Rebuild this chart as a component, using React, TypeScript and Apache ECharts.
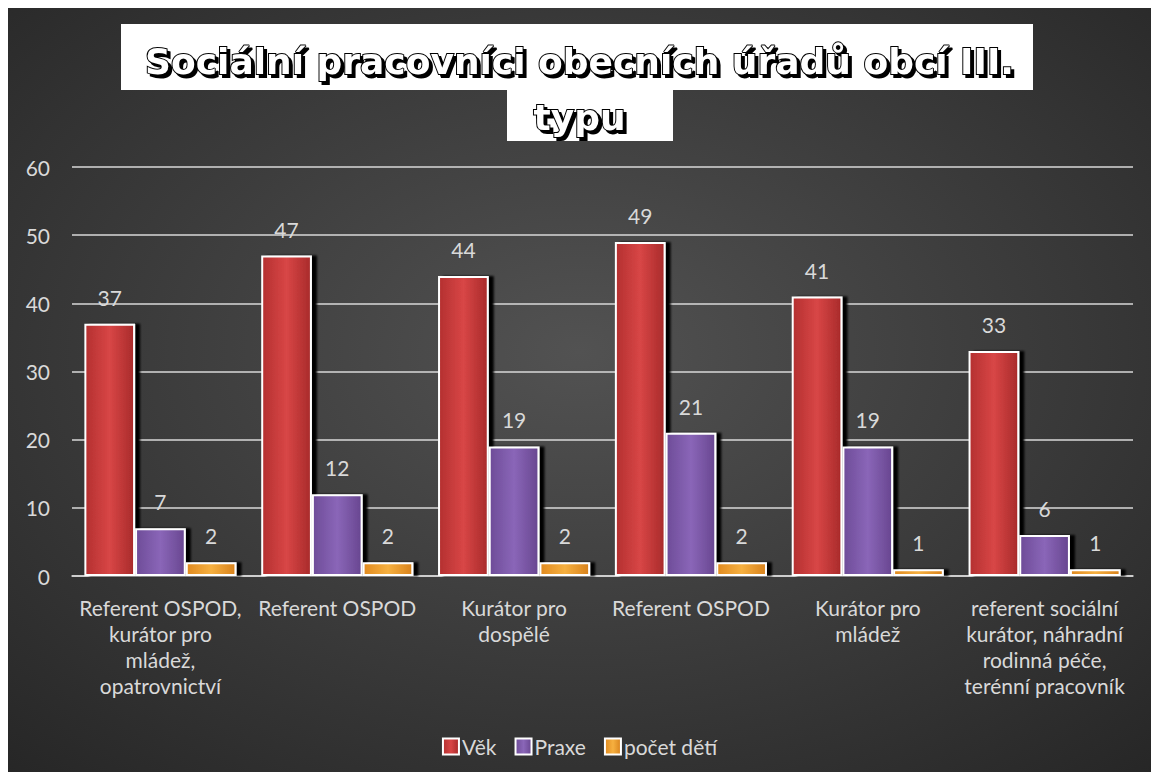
import React, { useEffect, useRef } from "react";
import * as echarts from "echarts";

const categories = [
  "Referent OSPOD,\nkurátor pro\nmládež,\nopatrovnictví",
  "Referent OSPOD",
  "Kurátor pro\ndospělé",
  "Referent OSPOD",
  "Kurátor pro\nmládež",
  "referent sociální\nkurátor, náhradní\nrodinná péče,\nterénní pracovník",
];
const vek = [37, 47, 44, 49, 41, 33];
const praxe = [7, 12, 19, 21, 19, 6];
const pocetDeti = [2, 2, 2, 2, 1, 1];
const yTicks = { min: 0, max: 60, interval: 10 };
const titleText = "Sociální pracovníci obecních úřadů obcí III.\ntypu";

const FONT = "Lato, 'Open Sans', sans-serif";
const LIGHT = "#d9d9d9";

function hGrad(a: string, b: string, c: string) {
  return new echarts.graphic.LinearGradient(0, 0, 1, 0, [
    { offset: 0, color: a },
    { offset: 0.5, color: b },
    { offset: 1, color: c },
  ]);
}

function barSeries(name: string, data: number[], fill: any) {
  return {
    name,
    type: "bar",
    data,
    barGap: "0%",
    barCategoryGap: "14%",
    itemStyle: {
      color: fill,
      borderColor: "#ffffff",
      borderWidth: 2,
      shadowColor: "#000000",
      shadowBlur: 2,
      shadowOffsetX: 5,
      shadowOffsetY: 0,
    },
    label: {
      show: true,
      position: "top",
      distance: 16,
      color: LIGHT,
      fontSize: 21,
      fontFamily: FONT,
    },
    emphasis: { disabled: true },
  };
}

export default function App() {
  const ref = useRef<HTMLDivElement>(null);
  useEffect(() => {
    if (!ref.current) return;
    const chart = echarts.init(ref.current, null, { renderer: "svg" });
    chart.setOption({
      animation: false,
      backgroundColor: {
        type: "radial",
        x: 0.5,
        y: 0.45,
        r: 0.75,
        colorStops: [
          { offset: 0, color: "#525252" },
          { offset: 1, color: "#262626" },
        ],
      },
      title: {
        text: titleText,
        left: "center",
        top: 20,
        z: 10,
        textStyle: {
          fontFamily: "'DejaVu Sans', Verdana, sans-serif",
          fontWeight: "bold",
          fontSize: 36,
          lineHeight: 56,
          color: "#ffffff",
          textBorderColor: "#000000",
          textBorderWidth: 2,
          textShadowColor: "#000000",
          textShadowBlur: 1,
          textShadowOffsetX: 3,
          textShadowOffsetY: 3,
        },
      },
      graphic: [
        {
          type: "rect",
          z: 1,
          shape: { x: 113, y: 16, width: 912, height: 66 },
          style: { fill: "#ffffff" },
        },
        {
          type: "rect",
          z: 1,
          shape: { x: 499, y: 82, width: 166, height: 51 },
          style: { fill: "#ffffff" },
        },
      ],
      legend: {
        bottom: 10,
        left: "center",
        itemWidth: 16,
        itemHeight: 16,
        itemGap: 18,
        icon: "rect",
        textStyle: { color: LIGHT, fontSize: 21, fontFamily: FONT, padding: [0, 0, 0, -2] },
        itemStyle: { borderColor: "#ffffff", borderWidth: 2, shadowBlur: 0, shadowOffsetX: 0 },
        data: ["Věk", "Praxe", "počet dětí"],
      },
      grid: { left: 64, right: 18, top: 159, bottom: 196 },
      xAxis: {
        type: "category",
        data: categories,
        axisLine: { show: true, lineStyle: { color: LIGHT, width: 1.5 } },
        axisTick: { show: false },
        axisLabel: {
          color: LIGHT,
          fontSize: 21,
          fontFamily: FONT,
          lineHeight: 26,
          margin: 18,
          interval: 0,
        },
      },
      yAxis: {
        type: "value",
        min: yTicks.min,
        max: yTicks.max,
        interval: yTicks.interval,
        axisLine: { show: false },
        axisTick: { show: false },
        splitLine: { lineStyle: { color: LIGHT, width: 1.5 } },
        axisLabel: { color: LIGHT, fontSize: 21, fontFamily: FONT, margin: 22 },
      },
      series: [
        barSeries("Věk", vek, hGrad("#b43030", "#d84646", "#a82a2a")),
        barSeries("Praxe", praxe, hGrad("#6e4c98", "#8a66b8", "#684690")),
        barSeries("počet dětí", pocetDeti, hGrad("#e08a20", "#f6b040", "#d8821c")),
      ],
    });
    return () => chart.dispose();
  }, []);
  return <div ref={ref} style={{ width: 1143, height: 764 }} />;
}
